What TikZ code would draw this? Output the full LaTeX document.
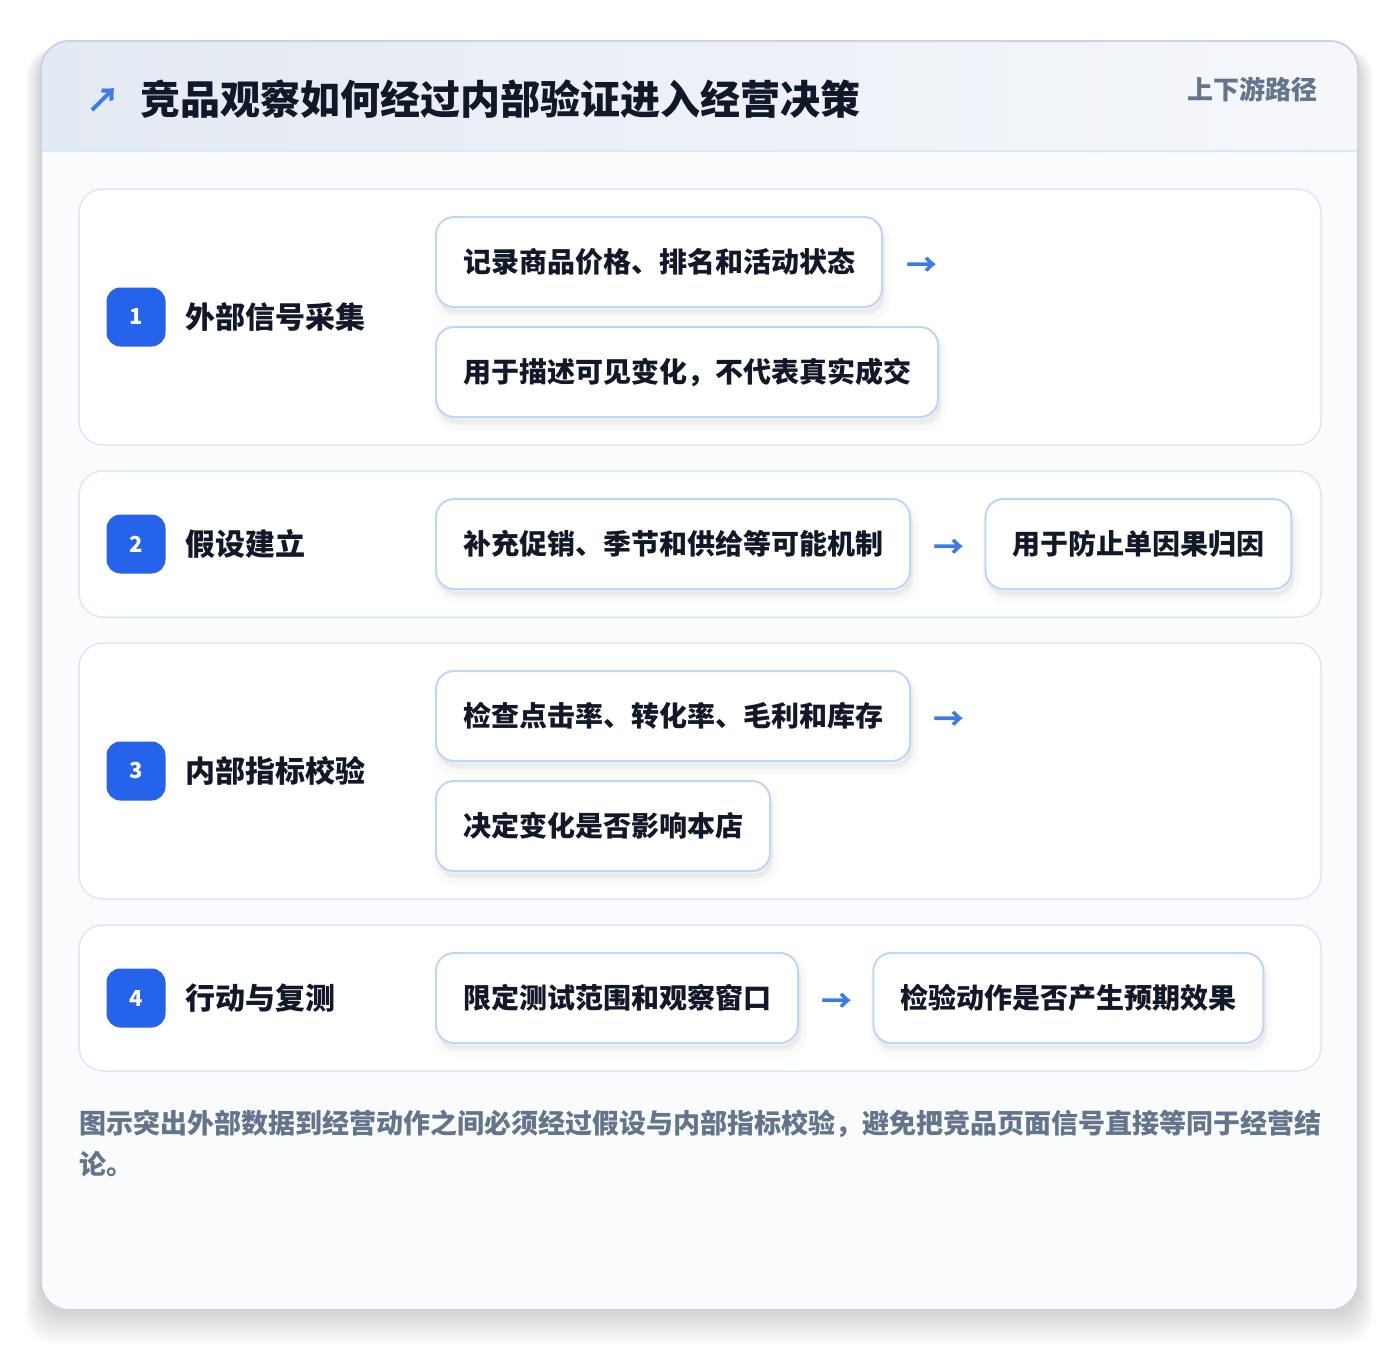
\documentclass[tikz,border=0pt]{standalone}
\usepackage{fontspec}
\setmainfont{Noto Sans CJK SC}
\usepackage{tikz}
\usetikzlibrary{positioning}
\definecolor{ink}{HTML}{111827}
\definecolor{muted}{HTML}{64748B}
\definecolor{badgeblue}{HTML}{2563EB}
\definecolor{arrowblue}{HTML}{3B7BE8}
\definecolor{boxline}{HTML}{BFD6F6}
\definecolor{panelline}{HTML}{DCE8F8}
\definecolor{cardline}{HTML}{CBD5E1}
\definecolor{cardfill}{HTML}{F9FBFD}
\definecolor{headleft}{HTML}{E4EAF3}
\definecolor{headright}{HTML}{F5F7FB}
\tikzstyle{panel} = [draw=panelline, line width=1.5pt, fill=white, rounded corners=24pt]
\tikzstyle{badge} = [fill=badgeblue, rounded corners=14pt, minimum size=59pt, inner sep=0pt, text=white, font=\bfseries\fontsize{22}{24}\selectfont]
\tikzstyle{steplabel} = [anchor=west, inner sep=0pt, text=ink, font=\bfseries\fontsize{30}{36}\selectfont]
\tikzstyle{item} = [anchor=west, draw=boxline, line width=2pt, fill=white, rounded corners=18pt, minimum height=90pt, inner xsep=27pt, text=ink, font=\bfseries\fontsize{28}{34}\selectfont,
  preaction={fill=black, fill opacity=0.025, draw=black, draw opacity=0.02, line width=12pt, transform canvas={xshift=3pt, yshift=-8pt}},
  preaction={fill=black, fill opacity=0.02, draw=black, draw opacity=0.02, line width=5pt, transform canvas={xshift=2pt, yshift=-5pt}}]
\tikzstyle{arr} = [inner sep=0pt, text=arrowblue, font=\bfseries\fontsize{31}{31}\selectfont, yshift=-5pt]

\begin{document}
\begin{tikzpicture}[x=1pt,y=-1pt]
  \fill[white] (0,0) rectangle (1400,1352);
  \useasboundingbox (0,0) rectangle (1400,1352);
  % soft shadow under the card
  \foreach \k in {1,...,14}
    \fill[black, opacity=0.01, rounded corners=28pt] (41-1.1*\k,41+10-0.2*\k) rectangle (1358+1.1*\k,1310+2+2.3*\k);
  % card and header
  \fill[cardfill, rounded corners=28pt] (41,41) rectangle (1358,1310);
  \begin{scope}
    \clip[rounded corners=28pt] (41,41) rectangle (1358,1310);
    \shade[left color=headleft, right color=headright] (41,41) rectangle (1358,151);
    \draw[panelline, line width=1.5pt] (41,151) -- (1358,151);
  \end{scope}
  \draw[cardline, line width=2pt, rounded corners=28pt] (41,41) rectangle (1358,1310);
  \node[anchor=west, inner sep=0pt, text=arrowblue, font=\bfseries\fontsize{34}{34}\selectfont] (icon) at (86,100) {↗};
  \node[anchor=west, inner sep=0pt, text=ink, font=\bfseries\fontsize{40}{48}\selectfont] (title) at (140,99) {竞品观察如何经过内部验证进入经营决策};
  \node[anchor=east, inner sep=0pt, text=muted, font=\bfseries\fontsize{26}{30}\selectfont] (route) at (1318,89) {上下游路径};

  % step 1
  \draw[panel] (79,189) rectangle (1321,445);
  \node[badge] (n1) at (136,317) {1};
  \node[steplabel] (s1) at (185,317) {外部信号采集};
  \node[item] (b11) at (435,262) {记录商品价格、排名和活动状态};
  \node[arr, right=23pt of b11] (a1) {→};
  \node[item] (b12) at (435,372) {用于描述可见变化，不代表真实成交};

  % step 2
  \draw[panel] (79,471) rectangle (1321,617);
  \node[badge] (n2) at (136,544) {2};
  \node[steplabel] (s2) at (185,544) {假设建立};
  \node[item] (b21) at (435,544) {补充促销、季节和供给等可能机制};
  \node[arr, right=22pt of b21] (a2) {→};
  \node[item, right=20pt of a2, yshift=5pt] (b22) {用于防止单因果归因};

  % step 3
  \draw[panel] (79,643) rectangle (1321,899);
  \node[badge] (n3) at (136,771) {3};
  \node[steplabel] (s3) at (185,771) {内部指标校验};
  \node[item] (b31) at (435,716) {检查点击率、转化率、毛利和库存};
  \node[arr, right=22pt of b31] (a3) {→};
  \node[item] (b32) at (435,826) {决定变化是否影响本店};

  % step 4
  \draw[panel] (79,925) rectangle (1321,1071);
  \node[badge] (n4) at (136,998) {4};
  \node[steplabel] (s4) at (185,998) {行动与复测};
  \node[item] (b41) at (435,998) {限定测试范围和观察窗口};
  \node[arr, right=22pt of b41] (a4) {→};
  \node[item, right=20pt of a4, yshift=5pt] (b42) {检验动作是否产生预期效果};

  % footer
  \node[anchor=north west, align=left, inner sep=0pt, text=muted, font=\bfseries\fontsize{27}{41}\selectfont] (note) at (79,1110) {图示突出外部数据到经营动作之间必须经过假设与内部指标校验，避免把竞品页面信号直接等同于经营结\\论。};
\end{tikzpicture}
\end{document}
